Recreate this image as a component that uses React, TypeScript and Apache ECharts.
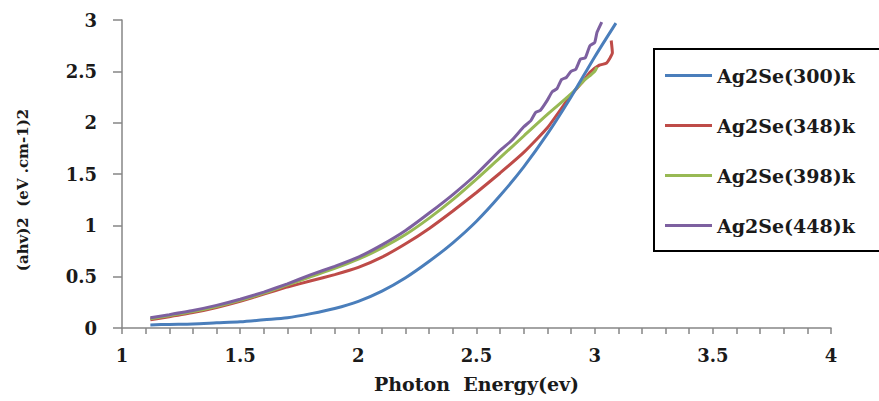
import React, { useEffect, useRef } from "react";
import * as echarts from "echarts";

const seriesNames = ["Ag2Se(300)k", "Ag2Se(348)k", "Ag2Se(398)k", "Ag2Se(448)k"];
const seriesColors = ["#4A7EBB", "#BE4B48", "#98B954", "#7D60A0"];

const x300 = [1.12, 1.2, 1.3, 1.4, 1.5, 1.6, 1.7, 1.8, 1.9, 2.0, 2.1, 2.2, 2.3, 2.4, 2.5, 2.6, 2.7, 2.8, 2.9, 3.0, 3.09];
const y300 = [0.03, 0.035, 0.04, 0.05, 0.06, 0.08, 0.1, 0.14, 0.19, 0.26, 0.36, 0.49, 0.65, 0.83, 1.04, 1.29, 1.57, 1.89, 2.25, 2.64, 2.97];

const x348 = [1.12, 1.2, 1.3, 1.4, 1.5, 1.6, 1.7, 1.8, 1.9, 2.0, 2.1, 2.2, 2.3, 2.4, 2.5, 2.6, 2.7, 2.8, 2.9, 2.95, 2.98, 3.02, 3.05, 3.075, 3.07];
const y348 = [0.08, 0.11, 0.15, 0.2, 0.26, 0.33, 0.4, 0.46, 0.52, 0.59, 0.69, 0.82, 0.97, 1.14, 1.32, 1.51, 1.71, 1.95, 2.27, 2.4, 2.49, 2.56, 2.58, 2.68, 2.8];

const x398 = [1.12, 1.2, 1.3, 1.4, 1.5, 1.6, 1.7, 1.8, 1.9, 2.0, 2.1, 2.2, 2.3, 2.4, 2.5, 2.6, 2.7, 2.8, 2.9, 2.95, 3.0, 3.01];
const y398 = [0.09, 0.12, 0.16, 0.21, 0.27, 0.34, 0.42, 0.5, 0.58, 0.67, 0.78, 0.91, 1.07, 1.25, 1.45, 1.66, 1.87, 2.08, 2.28, 2.4, 2.5, 2.54];

const x448 = [1.12, 1.2, 1.3, 1.4, 1.5, 1.6, 1.7, 1.8, 1.9, 2.0, 2.1, 2.2, 2.3, 2.4, 2.5, 2.6, 2.65, 2.7, 2.73, 2.75, 2.77, 2.8, 2.82, 2.84, 2.86, 2.88, 2.9, 2.92, 2.94, 2.96, 2.98, 3.0, 3.01, 3.03];
const y448 = [0.1, 0.13, 0.17, 0.22, 0.28, 0.35, 0.43, 0.52, 0.6, 0.69, 0.81, 0.95, 1.12, 1.3, 1.5, 1.73, 1.83, 1.96, 2.02, 2.1, 2.12, 2.22, 2.3, 2.33, 2.42, 2.44, 2.5, 2.52, 2.62, 2.63, 2.75, 2.78, 2.88, 2.98];

const xs = [x300, x348, x398, x448];
const ys = [y300, y348, y398, y448];

const FONT = "DejaVu Serif";

export default function App() {
  const ref = useRef<HTMLDivElement>(null);
  useEffect(() => {
    if (!ref.current) return;
    const chart = echarts.init(ref.current, undefined, { renderer: "svg" });
    const series = seriesNames.map((name, i) => ({
      name,
      type: "line",
      data: xs[i].map((x, j) => [x, ys[i][j]]),
      showSymbol: false,
      symbol: "none",
      smooth: i === 0 || i === 2 ? 0.3 : 0.15,
      z: i === 0 ? 4 : 2,
      lineStyle: { color: seriesColors[i], width: 3 },
      itemStyle: { color: seriesColors[i] },
    }));
    chart.setOption({
      animation: false,
      backgroundColor: "#ffffff",
      grid: { left: 122, right: 48, top: 20, bottom: 73 },
      legend: {
        orient: "vertical",
        left: 654,
        top: 49,
        padding: [17, 40, 16, 11],
        itemGap: 31,
        itemWidth: 47,
        itemHeight: 3,
        icon: "rect",
        borderColor: "#000000",
        borderWidth: 2,
        data: seriesNames,
        textStyle: { fontFamily: FONT, fontWeight: "bold", fontSize: 19, color: "#1a1a1a", lineHeight: 18 },
      },
      xAxis: {
        type: "value",
        min: 1,
        max: 4,
        interval: 0.1,
        name: "Photon  Energy(ev)",
        nameLocation: "middle",
        nameGap: 46,
        nameTextStyle: { fontFamily: FONT, fontWeight: "bold", fontSize: 19, color: "#1a1a1a" },
        axisLine: { show: true, lineStyle: { color: "#868686", width: 1.5 } },
        axisTick: { show: true, inside: false, length: 6, lineStyle: { color: "#868686", width: 1.5 } },
        splitLine: { show: false },
        axisLabel: {
          margin: 18,
          fontFamily: FONT,
          fontWeight: "bold",
          fontSize: 18,
          color: "#1a1a1a",
          formatter: (v: number) => (Math.abs(v * 2 - Math.round(v * 2)) < 1e-6 ? String(Math.round(v * 2) / 2) : ""),
        },
      },
      yAxis: {
        type: "value",
        min: 0,
        max: 3,
        interval: 0.5,
        name: "(ahv)2  (eV .cm-1)2",
        nameLocation: "middle",
        nameGap: 92,
        nameTextStyle: { fontFamily: FONT, fontWeight: "bold", fontSize: 15, color: "#1a1a1a", padding: [0, 32, 0, 0] },
        axisLine: { show: true, lineStyle: { color: "#868686", width: 1.5 } },
        axisTick: { show: true, inside: false, length: 9, lineStyle: { color: "#868686", width: 1.5 } },
        splitLine: { show: false },
        axisLabel: { margin: 25, fontFamily: FONT, fontWeight: "bold", fontSize: 18, color: "#1a1a1a" },
      },
      series,
    });
    return () => chart.dispose();
  }, []);
  return (
    <div
      ref={ref}
      style={{ position: "fixed", left: 0, top: 0, width: 879, height: 401, background: "#fff" }}
    />
  );
}
